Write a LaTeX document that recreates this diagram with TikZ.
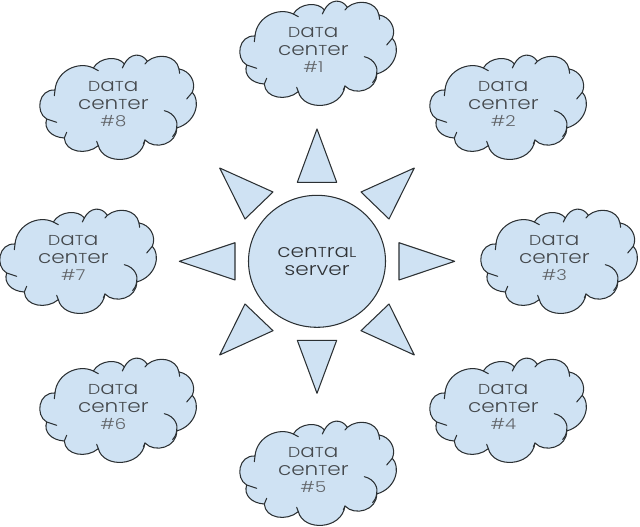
\documentclass[tikz,border=0pt]{standalone}
\usepackage{fontspec}
\usetikzlibrary{shapes.geometric}
\setmainfont{Poppins}[UprightFont={* Light},FakeStretch=1.2]
\definecolor{blobfill}{HTML}{CFE2F3}
\definecolor{blobline}{HTML}{2B3033}
\definecolor{blobtext}{HTML}{45494D}
\newcommand\lowcap[1]{{\fontsize{14.4}{15}\selectfont #1}}
\newcommand\dctext[1]{\lowcap{D}a\lowcap{T}a\\ cen\lowcap{T}er\\ {\fontsize{15}{15}\selectfont\color{blobtext!85}\##1}}
\tikzset{
  x=1pt,y=-1pt,
  blob/.style={draw=blobline,fill=blobfill,line width=1.05pt,line join=round},
  crease/.style={draw=blobline,line width=1.05pt,line cap=round},
  label text/.style={align=center,text=blobtext,font=\fontsize{18}{17.6}\selectfont,inner sep=0pt},
}
\newcommand\dccloud[3]{%
\begin{scope}[shift={(#1,#2)},x=0.3333pt,y=-0.3333pt]
  \path[blob] (75,108) .. controls (80,50) and (145,20) .. (190,42)
    .. controls (210,8) and (265,5) .. (283,30)
    .. controls (300,-3) and (335,-5) .. (352,22)
    .. controls (385,-5) and (440,5) .. (447,45)
    .. controls (480,50) and (500,85) .. (487,115)
    .. controls (512,140) and (500,205) .. (440,222)
    .. controls (442,270) and (375,290) .. (345,258)
    .. controls (335,330) and (220,335) .. (205,275)
    .. controls (170,305) and (105,295) .. (103,252)
    .. controls (65,250) and (40,225) .. (50,195)
    .. controls (15,175) and (25,105) .. (75,108) -- cycle;
  \draw[crease] (190,42) -- (205,50);
  \draw[crease] (283,30) -- (277,42);
  \draw[crease] (352,22) -- (345,30);
  \draw[crease] (447,45) -- (449,58);
  \draw[crease] (487,115) -- (470,135);
  \draw[crease] (403,170) .. controls (435,178) and (445,205) .. (440,222) .. controls (438,235) and (433,242) .. (428,248);
  \draw[crease] (345,258) -- (340,270);
  \draw[crease] (205,275) -- (200,262);
  \draw[crease] (103,252) -- (110,235);
  \draw[crease] (50,195) -- (80,205);
  \draw[crease] (75,108) -- (73,125);
  \node[label text] (dc#3) at (250,151) {\dctext{#3}};
\end{scope}}
\begin{document}
\begin{tikzpicture}
\useasboundingbox (0,0) rectangle (640,527);
\dccloud{230}{0}{1}
\dccloud{420}{54}{2}
\dccloud{471}{208}{3}
\dccloud{420}{357}{4}
\dccloud{230}{420}{5}
\dccloud{30}{357}{6}
\dccloud{-10}{208}{7}
\dccloud{30}{54}{8}
\path[blob] (317,129) -- (297.3,182.3) -- (336.7,182.3) -- cycle;
\path[blob] (414.3,168) -- (361,192) -- (389,219) -- cycle;
\path[blob] (454.7,261.3) -- (399,242.7) -- (399,280) -- cycle;
\path[blob] (414.3,355) -- (389,304) -- (361,330.7) -- cycle;
\path[blob] (317,393.3) -- (297.3,340.3) -- (336.7,340.3) -- cycle;
\path[blob] (219.7,355) -- (245,304) -- (273,330.7) -- cycle;
\path[blob] (179.3,261.3) -- (235,242.7) -- (235,280) -- cycle;
\path[blob] (219.7,168) -- (273,192) -- (245,219) -- cycle;
\node[draw=blobline,fill=blobfill,line width=1.05pt,ellipse,minimum width=137pt,minimum height=132pt,inner sep=0pt,align=center,text=blobtext!70!black,font=\fontsize{18}{17.6}\selectfont] (central) at (317,261.3) {\raisebox{-2pt}{cen\lowcap{T}ra\lowcap{L}}\\ \raisebox{-2pt}{server}};
\end{tikzpicture}
\end{document}
